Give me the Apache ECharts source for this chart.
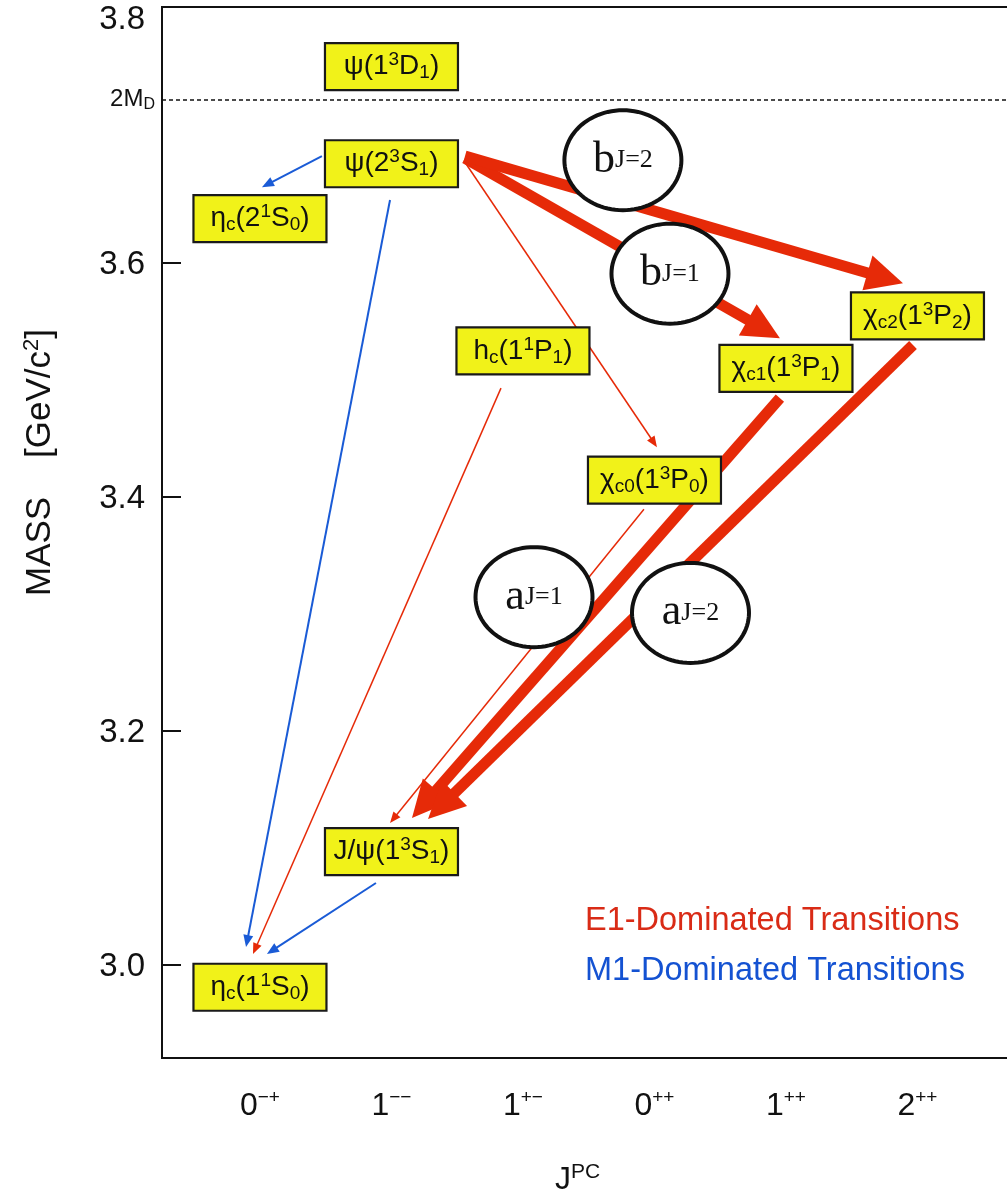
<!DOCTYPE html>
<html>
<head>
<meta charset="utf-8">
<script src="https://cdn.jsdelivr.net/npm/echarts@6/dist/echarts.min.js"></script>
<style>
  html, body { margin: 0; padding: 0; background: #ffffff; }
  #chart { width: 1007px; height: 1194px; }
</style>
</head>
<body>
<div id="chart"></div>
<script>
// J^PC columns along the horizontal axis
const jpcColumns = [0, 1, 2, 3, 4, 5];
const jpcLabels = ['0{p|−+}', '1{p|−−}', '1{p|+−}', '0{p|++}', '1{p|++}', '2{p|++}'];

// Mass axis ticks (GeV/c^2)
const massTicks = [3.0, 3.2, 3.4, 3.6];
const massLabels = [3.0, 3.2, 3.4, 3.6, 3.8];

// Open-charm threshold 2M_D
const thresholdMass = 3.739;

// Charmonium states: label, J^PC column, mass
const stateNames = [
  'η{s|c}(1{p|1}S{s|0})',
  'J/ψ(1{p|3}S{s|1})',
  'h{s|c}(1{p|1}P{s|1})',
  'χ{s|c0}(1{p|3}P{s|0})',
  'χ{s|c1}(1{p|3}P{s|1})',
  'χ{s|c2}(1{p|3}P{s|2})',
  'η{s|c}(2{p|1}S{s|0})',
  'ψ(2{p|3}S{s|1})',
  'ψ(1{p|3}D{s|1})'
];
const stateColumn = [0, 1, 2, 3, 4, 5, 0, 1, 1];
const stateMass = [2.981, 3.097, 3.525, 3.4145, 3.510, 3.555, 3.638, 3.685, 3.768];

// Radiative transitions: start (column, mass) -> arrow tip (column, mass)
const arrowFromX = [0.471, 0.989, 1.833, 0.882, 1.559, 2.920, 1.559, 1.559, 3.954, 4.966];
const arrowFromM = [3.6915, 3.654, 3.4932, 3.0701, 3.6863, 3.3897, 3.6897, 3.6915, 3.4846, 3.530];
const arrowToX   = [0.015, -0.106, -0.053, 0.053, 3.019, 0.989, 3.954, 4.890, 1.156, 1.278];
const arrowToM   = [3.665, 3.0154, 3.0094, 3.0094, 3.4427, 3.1214, 3.5359, 3.5829, 3.1256, 3.1248];
const arrowKind  = ['M1', 'M1', 'E1', 'M1', 'E1', 'E1', 'E1w', 'E1w', 'E1w', 'E1w'];

// Multipole amplitude markers
const ampLabels = ['b{j|J=2}', 'b{j|J=1}', 'a{j|J=1}', 'a{j|J=2}'];
const ampX = [2.760, 3.118, 2.084, 3.274];
const ampM = [3.688, 3.591, 3.3145, 3.301];

const SANS = '"Liberation Sans", Arial, Helvetica, sans-serif';
const SERIF = '"Liberation Serif", "Times New Roman", serif';
const RED = '#e62a08';
const BLUE = '#1a5bd6';
const INK = '#111111';

const arrowStyles = {
  M1:  { color: BLUE, width: 2,   head: 12, half: 5 },
  E1:  { color: RED,  width: 1.5, head: 11, half: 4.5 },
  E1w: { color: RED,  width: 11,  head: 37, half: 18 }
};

const BOX_W = 133, BOX_H = 47;
const ELL_RX = 58.5, ELL_RY = 50;

const chart = echarts.init(document.getElementById('chart'), null, { renderer: 'canvas' });

const option = {
  backgroundColor: '#ffffff',
  animation: false,
  grid: {
    left: 162, top: 7, right: -10, bottom: 136,
    show: true, borderColor: INK, borderWidth: 2,
    outerBoundsMode: 'none'
  },
  xAxis: {
    type: 'value',
    min: -0.745, max: 5.757,
    axisLine: { show: false, onZero: false },
    axisTick: { show: false },
    splitLine: { show: false },
    axisLabel: {
      customValues: jpcColumns,
      hideOverlap: false,
      margin: 30,
      formatter: v => jpcLabels[Math.round(v)],
      color: INK,
      fontFamily: SANS,
      fontSize: 32,
      lineHeight: 36,
      rich: {
        p: { fontFamily: SANS, fontSize: 19, lineHeight: 20, color: INK, verticalAlign: 'top' }
      }
    },
    name: 'J{p|PC}',
    nameLocation: 'middle',
    nameGap: 104,
    nameMoveOverlap: false,
    nameTextStyle: {
      color: INK, fontFamily: SANS, fontSize: 32, lineHeight: 36,
      padding: [0, 24, 0, 0],
      rich: { p: { fontFamily: SANS, fontSize: 21, lineHeight: 22, color: INK, verticalAlign: 'top' } }
    }
  },
  yAxis: {
    type: 'value',
    min: 2.9205, max: 3.819,
    axisLine: { show: false, onZero: false },
    splitLine: { show: false },
    axisTick: {
      show: true, inside: true, length: 19,
      customValues: massTicks,
      lineStyle: { color: INK, width: 2 }
    },
    axisLabel: {
      customValues: massLabels,
      hideOverlap: false,
      margin: 17,
      formatter: v => Math.abs(v - 3.8) < 1e-6 ? '{t|3.8}' : '{n|' + v.toFixed(1) + '}',
      rich: {
        n: { fontFamily: SANS, fontSize: 33, color: INK, padding: [4, 0, 0, 0] },
        t: { fontFamily: SANS, fontSize: 33, color: INK, padding: [0, 0, 18, 0] }
      }
    },
    name: 'MASS    [GeV/c{p|2}]',
    nameLocation: 'middle',
    nameRotate: 90,
    nameGap: 103,
    nameMoveOverlap: false,
    nameTextStyle: {
      color: INK, fontFamily: SANS, fontSize: 35, lineHeight: 38,
      padding: [0, 0, 0, 140],
      rich: { p: { fontFamily: SANS, fontSize: 22, lineHeight: 22, color: INK, verticalAlign: 'top' } }
    }
  },
  graphic: [
    {
      type: 'text', left: 585, top: 905, z: 10,
      style: { text: 'E1-Dominated Transitions', fill: '#d92b16', font: '32.5px ' + SANS }
    },
    {
      type: 'text', left: 585, top: 955, z: 10,
      style: { text: 'M1-Dominated Transitions', fill: '#1452d2', font: '32.5px ' + SANS }
    }
  ],
  series: [
    {
      // 2M_D threshold line
      type: 'scatter',
      data: [],
      silent: true,
      markLine: {
        silent: true,
        symbol: 'none',
        animation: false,
        lineStyle: { color: INK, width: 1.5, type: [4, 3] },
        label: {
          show: true,
          position: 'start',
          distance: 7,
          formatter: '2M{s|D}',
          color: INK,
          fontFamily: SANS,
          fontSize: 24,
          lineHeight: 26,
          rich: { s: { fontFamily: SANS, fontSize: 16, lineHeight: 18, color: INK, verticalAlign: 'bottom' } }
        },
        data: [{ yAxis: thresholdMass }]
      }
    },
    {
      // transition arrows
      type: 'custom',
      z: 2,
      silent: true,
      encode: { x: [0, 2], y: [1, 3] },
      data: arrowFromX.map((x, i) => [x, arrowFromM[i], arrowToX[i], arrowToM[i]]),
      renderItem: function (params, api) {
        const a = api.coord([api.value(0), api.value(1)]);
        const b = api.coord([api.value(2), api.value(3)]);
        const st = arrowStyles[arrowKind[params.dataIndex]];
        const dx = b[0] - a[0], dy = b[1] - a[1];
        const len = Math.sqrt(dx * dx + dy * dy);
        const ux = dx / len, uy = dy / len;
        const bx = b[0] - ux * st.head, by = b[1] - uy * st.head;
        const px = -uy, py = ux;
        return {
          type: 'group',
          children: [
            {
              type: 'line',
              shape: { x1: a[0], y1: a[1], x2: b[0] - ux * st.head * 0.7, y2: b[1] - uy * st.head * 0.7 },
              style: { stroke: st.color, lineWidth: st.width, lineCap: 'butt' }
            },
            {
              type: 'polygon',
              shape: { points: [[b[0], b[1]], [bx + px * st.half, by + py * st.half], [bx - px * st.half, by - py * st.half]] },
              style: { fill: st.color }
            }
          ]
        };
      }
    },
    {
      // state boxes
      type: 'custom',
      z: 3,
      silent: true,
      encode: { x: 0, y: 1 },
      data: stateColumn.map((c, i) => [c, stateMass[i]]),
      renderItem: function (params, api) {
        const c = api.coord([api.value(0), api.value(1)]);
        return {
          type: 'rect',
          shape: { x: c[0] - BOX_W / 2, y: c[1] - BOX_H / 2, width: BOX_W, height: BOX_H },
          style: { fill: '#f1f219', stroke: '#1a1a1a', lineWidth: 2.2 },
          textContent: {
            style: {
              text: stateNames[params.dataIndex],
              fill: INK,
              fontFamily: SANS,
              fontSize: 28,
              lineHeight: 32,
              rich: {
                s: { fontFamily: SANS, fontSize: 19, lineHeight: 20, fill: INK, verticalAlign: 'bottom' },
                p: { fontFamily: SANS, fontSize: 19, lineHeight: 20, fill: INK, verticalAlign: 'top' }
              }
            }
          },
          textConfig: { position: 'inside' }
        };
      }
    },
    {
      // multipole amplitude ellipses
      type: 'custom',
      z: 4,
      silent: true,
      encode: { x: 0, y: 1 },
      data: ampX.map((x, i) => [x, ampM[i]]),
      renderItem: function (params, api) {
        const c = api.coord([api.value(0), api.value(1)]);
        const pts = [];
        for (let k = 0; k < 96; k++) {
          const t = (k / 96) * Math.PI * 2;
          pts.push([c[0] + ELL_RX * Math.cos(t), c[1] + ELL_RY * Math.sin(t)]);
        }
        return {
          type: 'polygon',
          shape: { points: pts },
          style: { fill: '#ffffff', stroke: INK, lineWidth: 4 },
          textContent: {
            style: {
              text: ampLabels[params.dataIndex],
              fill: INK,
              fontFamily: SERIF,
              fontSize: 44,
              lineHeight: 48,
              rich: {
                j: { fontFamily: SERIF, fontSize: 26, lineHeight: 28, fill: INK }
              }
            }
          },
          textConfig: { position: 'inside' }
        };
      }
    }
  ]
};

chart.setOption(option);
</script>
</body>
</html>
